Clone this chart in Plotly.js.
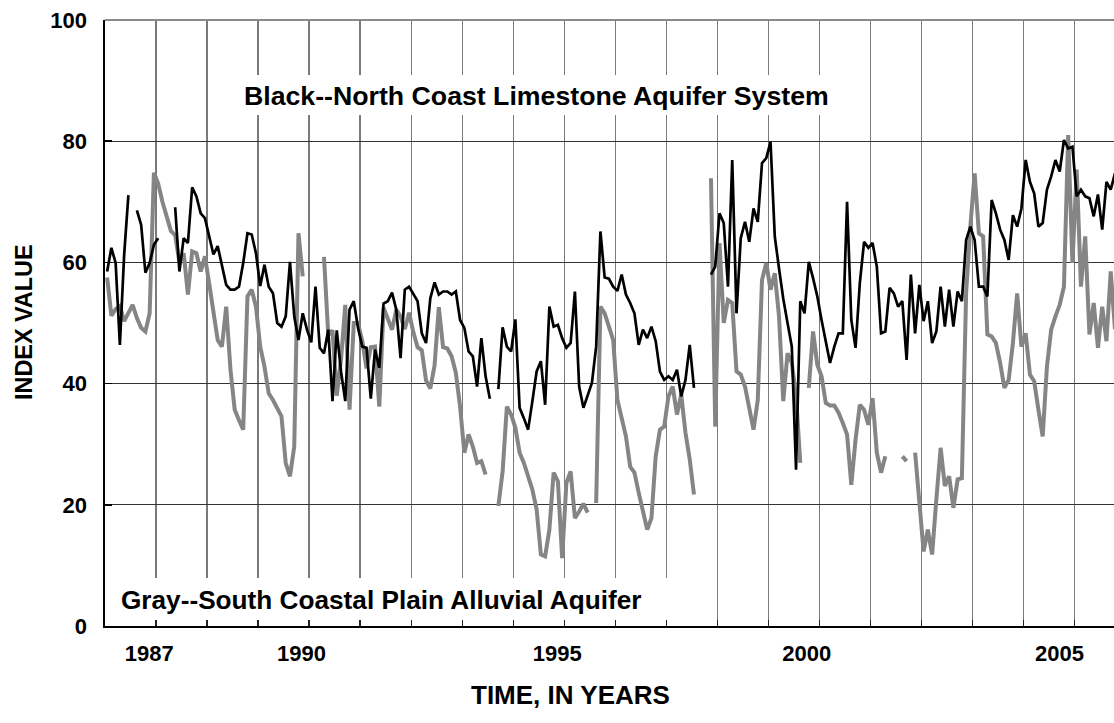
<!DOCTYPE html>
<html>
<head>
<meta charset="utf-8">
<script src="https://cdn.plot.ly/plotly-3.0.1.min.js"></script>
<style>
  html, body { margin: 0; padding: 0; background: #fff; }
  #chart { width: 1114px; height: 723px; }
</style>
</head>
<body>
<div id="chart"></div>
<script>
// Monthly index values, one entry per month starting January 1986 (null = no record).
const START_YEAR = 1986;

const northCoastLimestone = [
  58.5, 62.4, 59.9, 46.4, 61.2, 71.1, null, 68.6, 66.2, 58.3, 59.9, 62.9,
  64.0, null, null, null, 69.1, 58.5, 64.0, 63.2, 72.4, 70.9, 68.1, 67.3,
  64.3, 61.3, 62.7, 59.3, 56.3, 55.5, 55.5, 56.0, 59.9, 64.8, 64.6, 61.5,
  56.1, 59.6, 56.0, 54.9, 50.0, 49.4, 51.1, 60.1, 51.1, 47.2, 51.6, 48.9,
  46.8, 56.0, 45.9, 45.0, 48.9, 37.1, 48.8, 42.0, 37.1, 52.2, 53.6, 49.2,
  46.1, 45.9, 37.5, 45.6, 42.6, 53.2, 53.6, 55.0, 52.2, 44.2, 55.5, 56.0,
  54.9, 53.6, 48.3, 46.7, 54.1, 56.7, 54.7, 55.2, 55.2, 54.7, 55.2, 50.5,
  49.2, 45.3, 44.5, 39.5, 47.5, 41.2, 37.5, null, 39.1, 49.3, 46.1, 45.3,
  50.6, 36.0, 34.3, 32.4, 37.1, 42.0, 43.7, 36.5, 52.7, 49.4, 49.7, 47.5,
  45.9, 46.7, 55.2, 39.5, 36.0, 37.9, 40.1, 46.1, 65.1, 57.5, 57.3, 56.0,
  55.3, 58.0, 54.7, 53.3, 51.6, 46.4, 48.9, 47.5, 49.4, 47.0, 42.0, 40.6,
  41.2, 40.6, 42.3, 37.9, 40.6, 46.4, 39.3, null, null, null, 58.0, 59.3,
  68.1, 66.5, 56.0, 76.9, 51.6, 64.0, 66.7, 63.4, 68.9, 66.7, 76.4, 77.2,
  79.9, 64.3, 59.0, 54.0, 50.0, 46.1, 25.8, 53.6, 51.6, 60.1, 57.4, 54.4,
  50.5, 46.7, 43.4, 46.1, 48.3, 48.3, 70.0, 50.5, 45.9, 56.6, 63.4, 62.4,
  63.2, 59.3, 48.3, 48.6, 55.8, 54.9, 52.7, 53.6, 43.9, 58.0, 48.3, 56.3,
  50.3, 53.6, 46.7, 48.6, 56.0, 49.4, 55.5, 49.4, 55.2, 53.6, 63.7, 65.9,
  63.7, 56.0, 56.0, 54.4, 70.3, 68.1, 65.4, 63.7, 60.4, 67.8, 65.9, 68.9,
  76.9, 73.3, 71.4, 65.9, 66.5, 72.0, 74.2, 76.9, 75.0, 80.2, 78.8, 79.1,
  70.9, 72.0, 70.9, 70.6, 67.6, 71.2, 65.4, 73.3, 72.0, 74.7
];

const southCoastalAlluvial = [
  57.5, 51.2, 52.3, 52.8, 50.3, 51.5, 53.0, 50.8, 49.2, 48.6, 51.6, 74.8,
  73.0, 70.0, 67.3, 65.2, 64.5, 60.0, 61.5, 54.7, 61.8, 61.5, 58.5, 61.0,
  56.5, 52.0, 47.2, 46.1, 52.7, 42.3, 35.7, 34.0, 32.4, 54.4, 55.5, 52.7,
  46.1, 42.8, 38.4, 37.3, 36.0, 34.6, 26.9, 24.7, 29.6, 64.8, 57.7, null,
  null, null, null, 60.9, 48.0, 48.8, 38.0, 44.0, 53.0, 35.7, 50.0, 50.0,
  47.0, 42.5, 46.0, 46.1, 36.2, 52.5, 50.5, 48.9, 52.2, 51.1, 49.0, 51.7,
  48.5, 46.0, 45.5, 40.5, 39.2, 43.0, 52.6, 46.0, 45.8, 44.5, 41.8, 36.2,
  28.6, 31.6, 29.6, 26.9, 27.2, 25.0, null, null, 19.8, 25.5, 36.2, 34.9,
  32.7, 28.6, 26.9, 24.7, 22.5, 19.2, 11.8, 11.5, 15.9, 25.3, 23.9, 11.2,
  23.6, 25.5, 17.8, 18.9, 20.2, 18.7, null, 20.3, 52.7, 51.6, 49.4, 47.2,
  37.3, 34.0, 31.3, 26.3, 25.3, 22.0, 18.7, 15.9, 17.8, 28.0, 32.4, 32.9,
  37.9, 39.5, 34.9, 38.2, 31.9, 27.5, 21.7, null, null, null, 73.9, 32.9,
  63.2, 50.0, 53.8, 53.3, 42.0, 41.5, 39.5, 35.7, 32.4, 37.3, 57.1, 59.9,
  55.5, 58.2, 51.1, 37.1, 45.0, 43.4, 38.0, 26.9, null, 39.3, 48.6, 43.1,
  41.2, 36.8, 36.4, 36.4, 35.2, 33.5, 31.6, 23.3, 30.8, 36.5, 35.7, 33.2,
  37.6, 28.6, 25.3, 28.0, null, null, null, 28.0, 27.2, null, 28.6, 20.9,
  12.3, 15.9, 11.8, 20.9, 29.4, 23.1, 24.7, 19.5, 24.2, 24.4, 55.0, 66.0,
  74.7, 64.8, 64.3, 48.1, 47.8, 46.7, 43.4, 39.3, 40.6, 46.7, 54.9, 46.1,
  48.3, 41.5, 40.4, 35.7, 31.3, 42.8, 48.9, 51.1, 53.0, 56.0, 81.0, 59.9,
  75.3, 56.0, 64.3, 48.1, 53.3, 45.9, 52.7, 47.0, 58.5, 49.0
];

const labeledYears = [1987, 1990, 1995, 2000, 2005];
const yTicks = [0, 20, 40, 60, 80, 100];

// Mid-month decimal year for each monthly entry.
const monthX = n => Array.from({length: n}, (_, i) => START_YEAR + (i + 0.5) / 12);

const yearLines = [];
for (let yr = START_YEAR + 1; yr <= 2005; yr++) yearLines.push(yr);

const FONT = '"Liberation Sans", Arial, Helvetica, sans-serif';

// Plot area: x 105..1114 px, y 20..626 px.
const PL = 105, PR = 1114, PT = 20, PB = 626;
const PX_PER_YEAR = 51.03;
const px = v => (v - PL) / (PR - PL);
const py = v => (PB - v) / (PB - PT);

// Year labels sit a little left of their grid line (pixel nudges).
const labelNudgePx = [-6.7, -7.7, -7.0, -12.7, -15.0];
const labelPos = labeledYears.map((yr, i) => yr + labelNudgePx[i] / PX_PER_YEAR);

const traces = [
  {
    x: monthX(southCoastalAlluvial.length),
    y: southCoastalAlluvial,
    type: 'scatter', mode: 'lines',
    line: {color: '#858585', width: 4},
    connectgaps: false, hoverinfo: 'skip'
  },
  {
    x: monthX(northCoastLimestone.length),
    y: northCoastLimestone,
    type: 'scatter', mode: 'lines',
    line: {color: '#000000', width: 2.7},
    connectgaps: false, hoverinfo: 'skip'
  }
];

const layout = {
  width: 1114, height: 723,
  margin: {l: PL, r: 1114 - PR, t: PT, b: 723 - PB, pad: 0},
  paper_bgcolor: '#ffffff', plot_bgcolor: '#ffffff',
  showlegend: false,
  font: {family: FONT, color: '#000'},
  xaxis: {
    range: [START_YEAR, START_YEAR + (PR - PL) / PX_PER_YEAR],
    tickmode: 'array', tickvals: labelPos, ticktext: labeledYears.map(String),
    showgrid: false, ticks: '',
    minor: {
      tickmode: 'array', tickvals: yearLines,
      showgrid: true, gridcolor: '#7a7a7a', gridwidth: 1.3,
      ticks: 'inside', ticklen: 6, tickcolor: '#222', tickwidth: 1.3
    },
    showline: true, linecolor: '#000', linewidth: 1.6,
    zeroline: false, automargin: false,
    tickfont: {family: FONT, size: 22, color: '#000', weight: 'bold'},
    ticklabelstandoff: 7,
    fixedrange: true
  },
  yaxis: {
    range: [0, 100],
    tickmode: 'array', tickvals: yTicks,
    showgrid: true, gridcolor: '#333333', gridwidth: 1.2,
    ticks: 'inside', ticklen: 7, tickcolor: '#000', tickwidth: 1.5,
    showline: true, linecolor: '#000', linewidth: 1.6,
    zeroline: false, automargin: false,
    tickfont: {family: FONT, size: 22, color: '#000', weight: 'bold'},
    ticklabelstandoff: 12,
    fixedrange: true
  },
  shapes: [
    // frame line along the top of the plot
    {type: 'line', xref: 'paper', yref: 'paper', x0: 0, x1: 1, y0: 1, y1: 1,
     line: {color: '#8a8a8a', width: 2}, layer: 'above'},
    // white panels behind the series captions
    {type: 'rect', xref: 'paper', yref: 'paper',
     x0: px(240), x1: px(832), y0: py(115), y1: py(75),
     fillcolor: '#fff', line: {width: 0}, layer: 'above'},
    {type: 'rect', xref: 'paper', yref: 'paper',
     x0: px(106), x1: px(668), y0: py(620), y1: py(578),
     fillcolor: '#fff', line: {width: 0}, layer: 'above'}
  ],
  annotations: [
    {text: 'Black--North Coast Limestone Aquifer System',
     xref: 'paper', yref: 'paper', x: px(536), y: py(95.5),
     xanchor: 'center', yanchor: 'middle', showarrow: false,
     font: {family: FONT, size: 26.7, color: '#000', weight: 'bold'}},
    {text: 'Gray--South Coastal Plain Alluvial Aquifer',
     xref: 'paper', yref: 'paper', x: px(381.3), y: py(599.5),
     xanchor: 'center', yanchor: 'middle', showarrow: false,
     font: {family: FONT, size: 26.2, color: '#000', weight: 'bold'}},
    {text: 'TIME, IN YEARS',
     xref: 'paper', yref: 'paper', x: px(570.5), y: py(695),
     xanchor: 'center', yanchor: 'middle', showarrow: false,
     font: {family: FONT, size: 26, color: '#000', weight: 'bold'}},
    {text: 'INDEX VALUE', textangle: -90,
     xref: 'paper', yref: 'paper', x: px(24), y: py(322),
     xanchor: 'center', yanchor: 'middle', showarrow: false,
     font: {family: FONT, size: 23.4, color: '#000', weight: 'bold'}}
  ]
};

Plotly.newPlot('chart', traces, layout, {displayModeBar: false, staticPlot: true});
</script>
</body>
</html>
